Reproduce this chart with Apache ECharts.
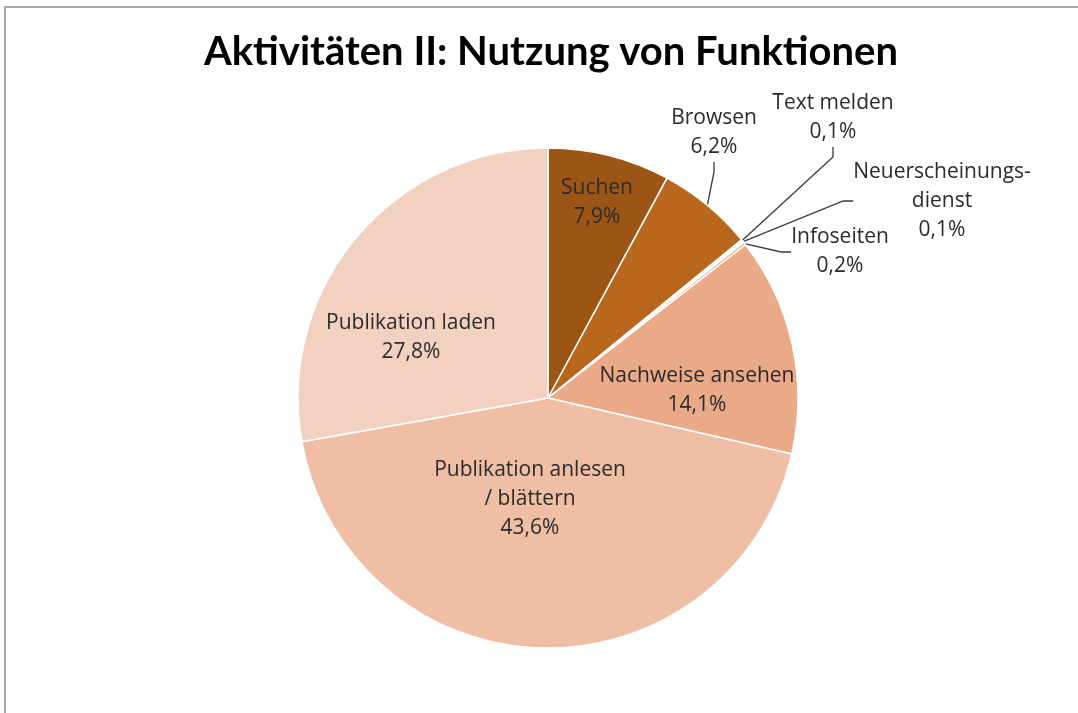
<!DOCTYPE html>
<html>
<head>
<meta charset="utf-8">
<script src="https://cdn.jsdelivr.net/npm/echarts@6/dist/echarts.min.js"></script>
<style>
  html, body { margin: 0; padding: 0; background: #fff; }
  #chart { width: 1078px; height: 713px; }
</style>
</head>
<body>
<div id="chart"></div>
<script>
const chart = echarts.init(document.getElementById('chart'))

// data, clockwise from 12 o'clock
const names = [
  'Suchen',
  'Browsen',
  'Text melden',
  'Neuerscheinungs-\ndienst',
  'Infoseiten',
  'Nachweise ansehen',
  'Publikation anlesen\n/ blättern',
  'Publikation laden',
]
const values = [7.9, 6.2, 0.1, 0.1, 0.2, 14.1, 43.6, 27.8]
const colors = ['#9c5515', '#b8671c', '#f3c29b', '#f7d6bb', '#eeb48e', '#ebaa87', '#efbea5', '#f3d1c1']
const outside = [false, true, true, true, true, false, false, false]

// where Excel put each label (centre of the text block)
const labelPos = [
  [597, 203], [714, 133], [833, 118], [942, 201],
  [840, 252], [697, 391], [530, 499], [411, 338],
]

const pieData = names.map((n, i) => ({
  name: n,
  value: values[i],
  itemStyle: { color: colors[i] },
  label: { position: outside[i] ? 'outside' : 'inside' },
  labelLine: { show: outside[i] },
}))

chart.setOption({
  animation: false,
  backgroundColor: '#fff',
  graphic: [{
    type: 'rect',
    shape: { x: 5, y: 7, width: 1200, height: 1000 },
    style: { fill: 'none', stroke: '#a6a6a6', lineWidth: 2 },
    silent: true,
  }],
  title: {
    text: 'Aktivitäten II: Nutzung von Funktionen',
    left: 546,
    textAlign: 'center',
    top: 27,
    textStyle: { fontFamily: 'Lato, sans-serif', fontWeight: 'bold', fontSize: 40, color: '#000' },
  },
  series: [{
    type: 'pie',
    center: [548, 398],
    radius: 250,
    startAngle: 90,
    clockwise: true,
    avoidLabelOverlap: false,
    itemStyle: { borderColor: '#fff', borderWidth: 1.5 },
    label: {
      show: true,
      fontFamily: '"Open Sans", sans-serif',
      fontSize: 21,
      lineHeight: 29,
      color: '#2b2b2b',
      align: 'center',
      formatter: p => p.name + '\n' + p.value.toFixed(1).replace('.', ',') + '%',
    },
    labelLine: {
      show: true,
      length: 20,
      length2: 10,
      lineStyle: { color: '#3a3a3a', width: 1.3 },
    },
    labelLayout: p => ({
      x: labelPos[p.dataIndex][0],
      y: labelPos[p.dataIndex][1],
      align: 'center',
      verticalAlign: 'middle',
    }),
    data: pieData,
  }],
})
</script>
</body>
</html>
